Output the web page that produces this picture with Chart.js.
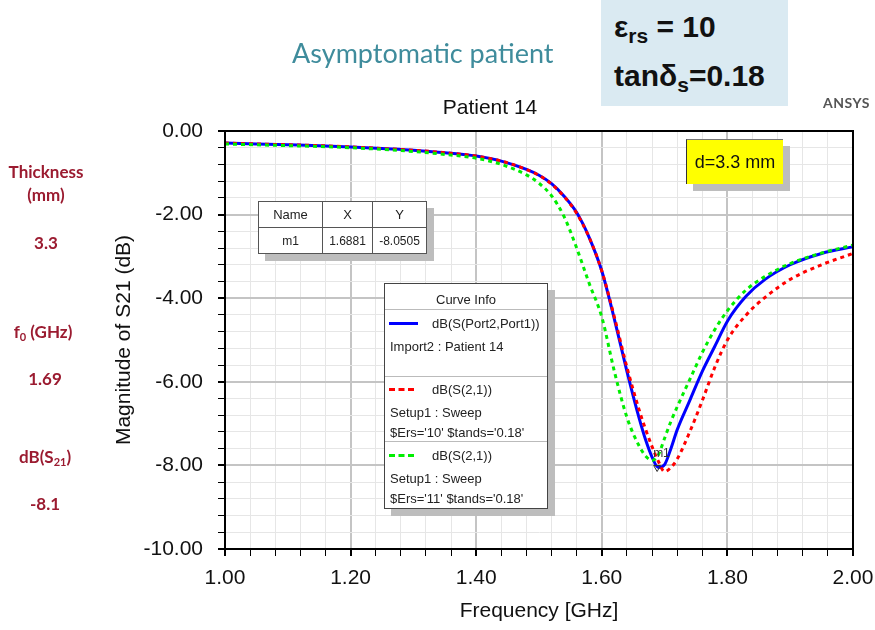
<!DOCTYPE html>
<html>
<head>
<meta charset="utf-8">
<title>Patient 14 - S21</title>
<script src="https://cdn.jsdelivr.net/npm/chart.js@4.4.1/dist/chart.umd.min.js"></script>
<style>
  body { margin: 0; width: 875px; height: 630px; overflow: hidden; background: #fff; position: relative;
         font-family: "Liberation Sans", Arial, sans-serif; }
  #wrap { position: absolute; left: 0; top: 0; width: 875px; height: 630px; }
  .abs { position: absolute; white-space: nowrap; }
  .side { position: absolute; left: 0; width: 92px; text-align: center; color: #9b1b30;
          font: bold 17px Lato, "Open Sans", sans-serif; line-height: 20px; }
  .side sub { font-size: 11px; vertical-align: -3px; line-height: 0; }
  #params { left: 601px; top: 0; width: 187px; height: 106px; background: #daeaf2;
            font: bold 30px "Liberation Sans", Arial, sans-serif; color: #111; }
  #params sub { font-size: 21px; vertical-align: -6px; line-height: 0; }
  .box { position: absolute; background: #fff; border: 1px solid #444; box-shadow: 7px 7px 0 #bdbdbd;
         font-size: 13px; color: #222; }
  #tbl { left: 258px; top: 201px; border-collapse: collapse; background: #fff; position: absolute;
         box-shadow: 7px 7px 0 #bdbdbd; font-size: 12px; color: #222; }
  #tbl td { border: 1px solid #555; text-align: center; height: 25px; padding: 0; }
  .row { position: absolute; left: 5px; }
  .sep { position: absolute; left: 0; right: 0; border-top: 1px solid #bbb; }
  .smp { position: absolute; left: 4px; width: 29px; height: 0; }
</style>
</head>
<body>
<div id="wrap"><canvas id="chart" width="875" height="630"></canvas></div>

<div class="abs" style="left:292px; top:36px; font: 27px Lato, 'Open Sans', sans-serif; color:#3f8c9c;">Asymptomatic patient</div>

<div id="params" class="abs">
  <div class="abs" style="left:13px; top:10px;">&epsilon;<sub>rs</sub> = 10</div>
  <div class="abs" style="left:13px; top:59px;">tan&delta;<sub>s</sub>=0.18</div>
</div>

<div class="abs" style="left:823px; top:94px; font: bold 14px Lato, sans-serif; color:#555; letter-spacing:0.5px;">ANSYS</div>
<div class="abs" style="left:390px; top:95px; width:200px; text-align:center; font-size:21px; color:#111;">Patient 14</div>

<div class="side" style="top:162px;">Thickness</div>
<div class="side" style="top:185px;">(mm)</div>
<div class="side" style="top:233px;">3.3</div>
<div class="side" style="top:322px; width:86px;">f<sub>0</sub> (GHz)</div>
<div class="side" style="top:369px; width:90px;">1.69</div>
<div class="side" style="top:447px; width:90px;">dB(S<sub>21</sub>)</div>
<div class="side" style="top:494px; width:90px;">-8.1</div>

<!-- yellow note -->
<div class="abs" style="left:686px; top:139px; width:96px; height:44px; background:#ffff00; border-left:1px solid #333; border-top:1px solid #777;
     box-shadow:7px 7px 0 #bdbdbd; font-size:18px; color:#111; line-height:44px; text-align:center;">d=3.3 mm</div>

<!-- marker table -->
<table id="tbl">
  <tr style="font-size:13px;"><td style="width:63px;">Name</td><td style="width:49px;">X</td><td style="width:53px;">Y</td></tr>
  <tr><td>m1</td><td>1.6881</td><td>-8.0505</td></tr>
</table>

<!-- curve info -->
<div class="box" style="left:384px; top:283px; width:162px; height:224px;">
  <div class="abs" style="left:0; width:162px; top:8px; text-align:center;">Curve Info</div>
  <div class="sep" style="top:25px;"></div>
  <div class="smp" style="top:38px; border-top:3px solid #0000ff;"></div>
  <div class="row" style="left:47px; top:32px;">dB(S(Port2,Port1))</div>
  <div class="row" style="top:55px;">Import2 : Patient 14</div>
  <div class="sep" style="top:92px;"></div>
  <div class="smp" style="top:104px; width:25px; border-top:3px dashed #ff0000;"></div>
  <div class="row" style="left:47px; top:98px;">dB(S(2,1))</div>
  <div class="row" style="top:121px;">Setup1 : Sweep</div>
  <div class="row" style="top:141px;">$Ers='10' $tands='0.18'</div>
  <div class="sep" style="top:157px;"></div>
  <div class="smp" style="top:170px; width:25px; border-top:3px dashed #00ee00;"></div>
  <div class="row" style="left:47px; top:164px;">dB(S(2,1))</div>
  <div class="row" style="top:187px;">Setup1 : Sweep</div>
  <div class="row" style="top:207px;">$Ers='11' $tands='0.18'</div>
</div>

<script>
'use strict'

// Frequency points (GHz) shared by all three curves
let freq = [1.00, 1.05, 1.10, 1.15, 1.20, 1.25, 1.30, 1.35, 1.40, 1.44, 1.48, 1.50, 1.52, 1.54, 1.56, 1.58,
            1.60, 1.62, 1.64, 1.66, 1.67, 1.68, 1.69, 1.70, 1.71, 1.72, 1.74, 1.76, 1.78, 1.80, 1.83, 1.86,
            1.90, 1.95, 2.00];

// dB(S(Port2,Port1)) - Import2 : Patient 14
let measured = [-0.29, -0.31, -0.33, -0.35, -0.38, -0.42, -0.46, -0.52, -0.60, -0.72, -0.92, -1.06, -1.26, -1.56, -1.95, -2.55,
                -3.35, -4.50, -5.75, -6.90, -7.40, -7.80, -8.05, -7.98, -7.60, -7.15, -6.45, -5.75, -5.15, -4.55, -3.95, -3.55,
                -3.20, -2.93, -2.77];

// dB(S(2,1)) - Ers=10
let sweepErs10 = [-0.29, -0.31, -0.33, -0.35, -0.38, -0.42, -0.46, -0.52, -0.60, -0.72, -0.92, -1.06, -1.27, -1.57, -1.97, -2.55,
                  -3.35, -4.45, -5.65, -6.70, -7.15, -7.55, -7.90, -8.15, -8.05, -7.85, -7.20, -6.45, -5.65, -5.00, -4.40, -3.98,
                  -3.55, -3.20, -2.93];

// dB(S(2,1)) - Ers=11
let sweepErs11 = [-0.31, -0.33, -0.35, -0.37, -0.40, -0.44, -0.49, -0.56, -0.65, -0.80, -1.05, -1.25, -1.55, -2.05, -2.80, -3.65,
                  -4.45, -5.75, -6.85, -7.55, -7.78, -7.88, -7.75, -7.35, -6.95, -6.60, -5.95, -5.30, -4.75, -4.30, -3.80, -3.48,
                  -3.17, -2.92, -2.73];

// marker m1
let markerX = [1.6881];
let markerY = [-8.0505];

// axis ranges
let xMin = 1.0, xMax = 2.0, xStep = 0.04, xMajor = 0.2;
let yMin = -10, yMax = 0, yStep = 0.4, yMajor = 2;

function toPoints(xs, ys) {
    let pts = [];
    for (let i = 0; i < xs.length; i++) {
        pts.push({ x: xs[i], y: ys[i] });
    }
    return pts;
}

function isMajor(v, step) {
    return Math.abs(v / step - Math.round(v / step)) < 1e-6;
}

const axisFont = { family: '"Liberation Sans", Arial, sans-serif', size: 21 };

// black frame around the plot and the m1 label
const framePlugin = {
    id: 'frame',
    afterDatasetsDraw(chart) {
        const { ctx, chartArea: a, scales } = chart;
        ctx.save();
        ctx.strokeStyle = '#000';
        ctx.lineWidth = 2;
        ctx.strokeRect(a.left, a.top, a.right - a.left, a.bottom - a.top);
        const px = scales.x.getPixelForValue(markerX[0]);
        const py = scales.y.getPixelForValue(markerY[0]);
        ctx.fillStyle = '#333';
        ctx.font = '12px "Liberation Sans", Arial';
        ctx.fillText('m1', px - 4, py - 11);
        ctx.restore();
    }
};

const config = {
    type: 'line',
    data: {
        datasets: [
            { label: 'm1', data: toPoints(markerX, markerY), showLine: false, pointStyle: 'triangle', rotation: 180,
              pointRadius: 4, borderColor: '#333', borderWidth: 1, backgroundColor: 'rgba(0,0,0,0)', order: 0 },
            { label: 'Ers=11', data: toPoints(freq, sweepErs11), borderColor: '#00ee00', borderWidth: 3,
              borderDash: [4, 4], pointRadius: 0, cubicInterpolationMode: 'monotone', order: 1 },
            { label: 'Ers=10', data: toPoints(freq, sweepErs10), borderColor: '#ff0000', borderWidth: 3,
              borderDash: [4, 4], pointRadius: 0, cubicInterpolationMode: 'monotone', order: 2 },
            { label: 'Patient 14', data: toPoints(freq, measured), borderColor: '#0000ff', borderWidth: 3,
              pointRadius: 0, cubicInterpolationMode: 'monotone', order: 3 }
        ]
    },
    options: {
        responsive: false,
        animation: false,
        layout: { padding: { top: 131, right: 22, bottom: 0, left: 108 } },
        plugins: { legend: { display: false }, tooltip: { enabled: false } },
        scales: {
            x: {
                type: 'linear', min: xMin, max: xMax,
                afterFit(scale) { scale.height = 81; scale.paddingLeft = 0; scale.paddingRight = 0; },
                ticks: {
                    stepSize: xStep, autoSkip: false, maxRotation: 0, padding: 10, color: '#111', font: axisFont,
                    callback: (v) => isMajor(v, xMajor) ? v.toFixed(2) : ''
                },
                grid: {
                    tickLength: 7,
                    color: (c) => isMajor(c.tick.value, xMajor) ? '#c4c4c4' : '#e6e6e6',
                    lineWidth: (c) => isMajor(c.tick.value, xMajor) ? 2 : 1,
                    tickColor: '#000'
                },
                border: { color: '#000', width: 2 },
                title: { display: true, text: 'Frequency [GHz]', color: '#111', font: axisFont, padding: { top: 0, bottom: 6 } }
            },
            y: {
                type: 'linear', min: yMin, max: yMax,
                afterFit(scale) { scale.width = 117; scale.paddingTop = 0; scale.paddingBottom = 0; },
                ticks: {
                    stepSize: yStep, autoSkip: false, padding: 15, color: '#111', font: axisFont,
                    callback: (v) => isMajor(v, yMajor) ? v.toFixed(2) : ''
                },
                grid: {
                    tickLength: 7,
                    color: (c) => isMajor(c.tick.value, yMajor) ? '#c4c4c4' : '#e6e6e6',
                    lineWidth: (c) => isMajor(c.tick.value, yMajor) ? 2 : 1,
                    tickColor: '#000'
                },
                border: { color: '#000', width: 2 },
                title: { display: true, text: 'Magnitude of S21 (dB)', color: '#111', font: axisFont, padding: { top: 4, bottom: 0 } }
            }
        }
    },
    plugins: [framePlugin]
};

const myChart = new Chart(document.getElementById('chart'), config);
</script>
</body>
</html>
